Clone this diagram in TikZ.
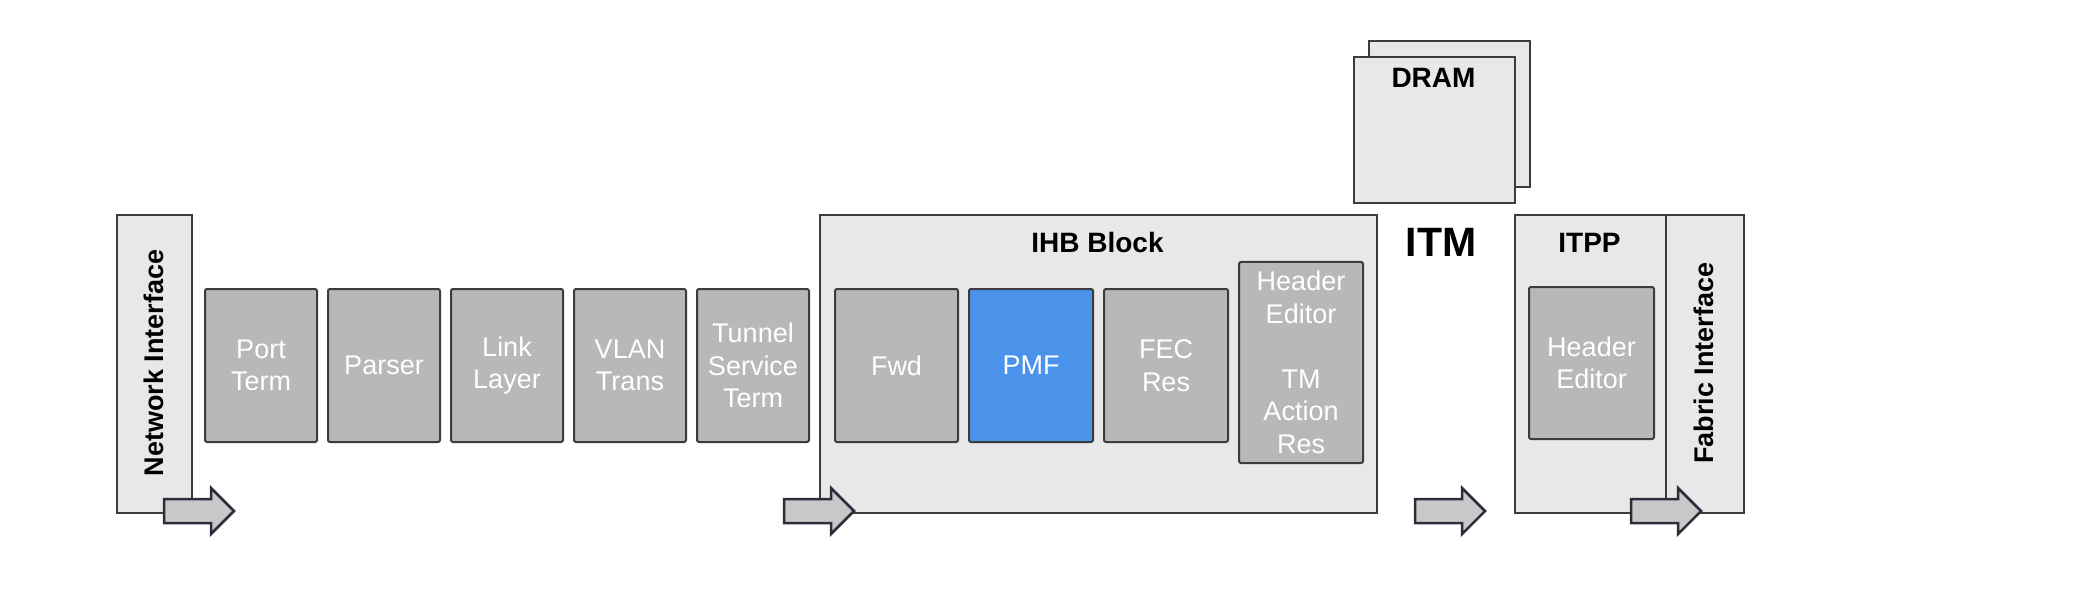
\documentclass[tikz,border=0pt]{standalone}
\usepackage{fontspec}
\setmainfont{Liberation Sans}
\definecolor{lightbox}{HTML}{E8E8E8}
\definecolor{midbox}{HTML}{B8B8B8}
\definecolor{edgecol}{HTML}{3C3C3C}
\definecolor{pmfblue}{HTML}{4A92EA}
\definecolor{arrowfill}{HTML}{C8C8C8}
\definecolor{arrowedge}{HTML}{2A2E3A}
\newcommand\blockarrow[1]{%
  \draw[blockarr] (#1) ++(0,-12) -- ++(47,0) -- ++(0,-11) -- ++(23,23)
    -- ++(-23,23) -- ++(0,-11) -- ++(-47,0) -- cycle;}
\begin{document}
\begin{tikzpicture}[x=1pt,y=-1pt,
  outerbox/.style={draw=edgecol, fill=lightbox, line width=2pt, inner sep=0pt, anchor=north west},
  innerbox/.style={draw=edgecol, fill=midbox, line width=2pt, rounded corners=2pt, inner sep=0pt,
    anchor=north west, text=white, align=center, font=\fontsize{27}{32.5}\selectfont},
  titletext/.style={font=\bfseries\fontsize{28}{32}\selectfont, anchor=base, inner sep=0pt},
  sidetext/.style={font=\bfseries\fontsize{27}{32}\selectfont, rotate=90, inner sep=0pt},
  blockarr/.style={draw=arrowedge, fill=arrowfill, line width=2.5pt, line join=miter}]
\useasboundingbox (0,0) rectangle (2094,596);

% Network interface
\node[outerbox, minimum width=75pt, minimum height=298pt] (ni) at (116,214) {};
\node[sidetext] (nitext) at (153.5,363) {Network Interface};
\coordinate (a1) at (164,511);
\blockarrow{a1}

% front-end stages
\node[innerbox, minimum width=112pt, minimum height=153pt] (port) at (204,288) {Port\\Term};
\node[innerbox, minimum width=112pt, minimum height=153pt] (parser) at (327,288) {Parser};
\node[innerbox, minimum width=112pt, minimum height=153pt] (link) at (450,288) {Link\\Layer};
\node[innerbox, minimum width=112pt, minimum height=153pt] (vlan) at (573,288) {VLAN\\Trans};
\node[innerbox, minimum width=112pt, minimum height=153pt] (tunnel) at (696,288) {Tunnel\\Service\\Term};

% IHB block
\node[outerbox, minimum width=557pt, minimum height=298pt] (ihb) at (819,214) {};
\node[titletext] (ihbtitle) at (1097.5,253) {IHB Block};
\node[innerbox, minimum width=123pt, minimum height=153pt] (fwd) at (834,288) {Fwd};
\node[innerbox, fill=pmfblue, minimum width=124pt, minimum height=153pt] (pmf) at (968,288) {PMF};
\node[innerbox, minimum width=124pt, minimum height=153pt] (fec) at (1103,288) {FEC\\Res};
\node[innerbox, minimum width=124pt, minimum height=201pt] (hed) at (1238,261) {Header\\Editor\\[32.5pt]TM\\Action\\Res};
\coordinate (a2) at (784,511);
\blockarrow{a2}

% DRAM
\node[outerbox, minimum width=161pt, minimum height=146pt] (dramback) at (1368,40) {};
\node[outerbox, minimum width=161pt, minimum height=146pt] (dram) at (1353,56) {};
\node[titletext] (dramtitle) at (1433.5,88) {DRAM};

% ITM
\node[titletext, font=\bfseries\fontsize{41}{44}\selectfont] (itm) at (1441,257) {ITM};
\coordinate (a3) at (1415,511);
\blockarrow{a3}

% ITPP + fabric interface
\node[outerbox, minimum width=151pt, minimum height=298pt] (itpp) at (1514,214) {};
\node[outerbox, minimum width=78pt, minimum height=298pt] (fab) at (1665,214) {};
\node[titletext] (itpptitle) at (1589.5,253) {ITPP};
\node[innerbox, minimum width=125pt, minimum height=152pt] (hed2) at (1528,286) {Header\\Editor};
\node[sidetext] (fabtext) at (1704,363) {Fabric Interface};
\coordinate (a4) at (1631,511);
\blockarrow{a4}
\end{tikzpicture}
\end{document}
